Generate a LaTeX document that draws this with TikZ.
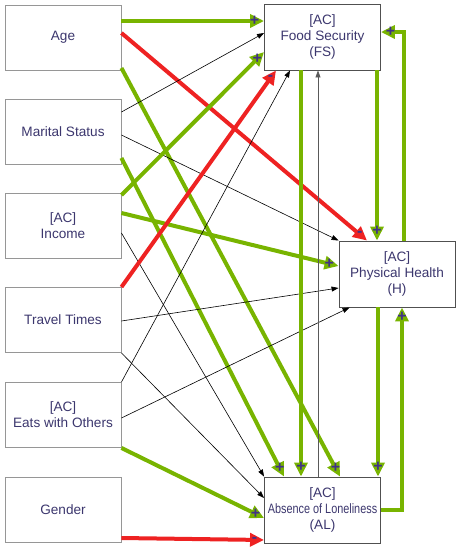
\documentclass[tikz,border=0pt]{standalone}
\usepackage{fontspec}
\setmainfont{Liberation Sans}
\usetikzlibrary{arrows.meta,calc}
\definecolor{grn}{RGB}{120,180,0}
\definecolor{rd}{RGB}{238,34,34}
\definecolor{txt}{RGB}{60,55,110}
\definecolor{sgn}{RGB}{65,50,135}
\definecolor{lbord}{RGB}{150,150,150}
\definecolor{dbord}{RGB}{80,80,80}
\newcommand\sedge[4]{%
  \draw[#1] #2 -- #3;
  \node[signtxt] at ($#3!9.5pt!#2$) {#4};}
\begin{document}
\begin{tikzpicture}[x=1pt,y=-1pt,
 box/.style={draw=lbord, line width=0.9pt, fill=white, minimum width=116pt, minimum height=65pt, inner sep=0pt, align=center, text=txt, font=\fontsize{13.6}{16}\selectfont},
 rbox/.style={box, draw=dbord, minimum height=66pt},
 signtxt/.style={text=sgn, font=\fontsize{16}{16}\selectfont\bfseries, inner sep=0pt},
 gplus/.style={draw=grn, line width=4pt, -{Triangle[width=13pt,length=14pt]}},
 rminus/.style={draw=rd, line width=4pt, -{Triangle[width=13pt,length=14pt]}},
 thinar/.style={draw=black, line width=0.6pt, -{Triangle[width=5pt,length=7pt]}},
]
\useasboundingbox (0,0) rectangle (461,550);
\node[box] (age) at (63,37.5) {Age};
\node[box] (ms) at (63,131.5) {Marital Status};
\node[box] (inc) at (63,225.5) {[AC]\\Income};
\node[box] (tt) at (63,320) {Travel Times};
\node[box] (eo) at (63,415) {[AC]\\Eats with Others};
\node[box] (gd) at (63,510) {Gender};
\node[rbox] (fs) at (322.5,37) {[AC]\\Food Security\\(FS)};
\node[rbox] (ph) at (397,274) {[AC]\\Physical Health\\(H)};
\node[rbox] (al) at (322.5,510) {[AC]\\\scalebox{0.8}[1]{Absence of Loneliness}\\(AL)};

\sedge{gplus}{([yshift=16.5pt]age.east)}{([yshift=16pt]fs.west)}{+}
\sedge{rminus}{([yshift=4.5pt]age.east)}{([xshift=-30pt]ph.north)}{-}
\sedge{gplus}{([yshift=-30.5pt]age.east)}{([xshift=17.5pt]al.north)}{+}
\draw[thinar] ([yshift=19.5pt]ms.east) -- ([yshift=4pt]fs.west);
\draw[thinar] ([yshift=-3.5pt]ms.east) -- (ph.north west);
\sedge{gplus}{([yshift=-26.5pt]ms.east)}{([xshift=-38.5pt]al.north)}{+}
\sedge{gplus}{([yshift=30.5pt]inc.east)}{([yshift=-15pt]fs.west)}{+}
\sedge{gplus}{([yshift=12.5pt]inc.east)}{([yshift=8pt]ph.west)}{+}
\draw[thinar] ([yshift=-7.5pt]inc.east) -- (al.north west);
\sedge{rminus}{(tt.north east)}{([xshift=-46.5pt]fs.south)}{-}
\draw[thinar] ([yshift=-1pt]tt.east) -- ([yshift=-14pt]ph.west);
\draw[thinar] (tt.south east) -- ([yshift=12pt]al.west);
\draw[thinar] (eo.north east) -- ([xshift=-32.5pt]fs.south);
\draw[thinar] ([yshift=-3pt]eo.east) -- ([xshift=11pt]ph.south west);
\sedge{gplus}{(eo.south east)}{([yshift=-8pt]al.west)}{+}
\sedge{rminus}{([yshift=-28pt]gd.east)}{([yshift=-30pt]al.west)}{-}
\sedge{gplus}{([xshift=-21.5pt]fs.south)}{([xshift=-21.5pt]al.north)}{+}
\draw[thinar, draw=gray!70!black] ([xshift=-4.5pt]al.north) -- ([xshift=-4.5pt]fs.south);
\sedge{gplus}{([xshift=54.5pt]fs.south)}{([xshift=-20pt]ph.north)}{+}
\draw[gplus] ([xshift=7pt]ph.north) |- ([yshift=5pt]fs.east);
\node[signtxt] at ([xshift=9.5pt,yshift=5pt]fs.east) {+};
\sedge{gplus}{([xshift=-19pt]ph.south)}{([xshift=55.5pt]al.north)}{+}
\draw[gplus] (al.east) -| ([xshift=5pt]ph.south);
\node[signtxt] at ([xshift=5pt,yshift=-9.5pt]ph.south) {+};
\end{tikzpicture}
\end{document}
